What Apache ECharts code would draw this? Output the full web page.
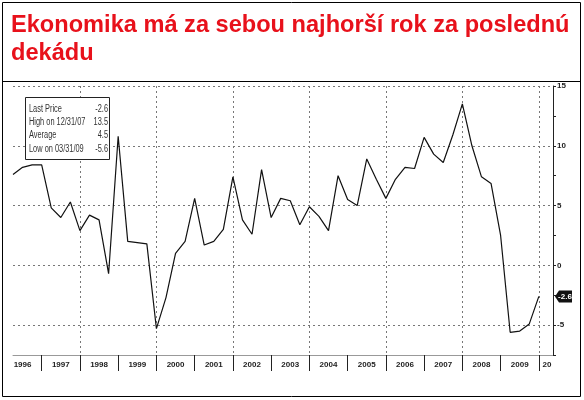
<!DOCTYPE html>
<html>
<head>
<meta charset="utf-8">
<script src="https://cdn.jsdelivr.net/npm/echarts@6/dist/echarts.min.js"></script>
<style>
html, body { margin: 0; padding: 0; background: #fff; }
#main { width: 584px; height: 400px; }
</style>
</head>
<body>
<div id="main"></div>
<script>
// years shown on the axis, data are quarter-end values (3/31/96 .. 12/31/09)
var years = [1996, 1997, 1998, 1999, 2000, 2001, 2002, 2003, 2004, 2005, 2006, 2007, 2008, 2009];
var quarterEnds = [0.25, 0.5, 0.75, 1];

// medziročný rast HDP, %
var growth = [
  7.6, 8.2, 8.4, 8.4,
  4.8, 4.0, 5.3, 2.9,
  4.2, 3.8, -0.7, 10.8,
  2.0, 1.9, 1.8, -5.3,
  -2.7, 1.0, 2.0, 5.6,
  1.7, 2.0, 3.0, 7.4,
  3.8, 2.6, 8.0, 4.0,
  5.6, 5.4, 3.4, 4.9,
  4.1, 2.9, 7.5, 5.5,
  5.0, 8.9, 7.2, 5.6,
  7.2, 8.2, 8.1, 10.7,
  9.3, 8.6, 10.9, 13.5,
  10.0, 7.4, 6.85, 2.5,
  -5.6, -5.5, -4.9, -2.6
];

var yearLabels = ['1996', '1997', '1998', '1999', '2000', '2001', '2002', '2003', '2004', '2005', '2006', '2007', '2008', '2009', '20'];
var yGridValues = [-5, 0, 5, 10, 15];
var xGridYears = [1998, 2000, 2002, 2004, 2006, 2008, 2010];

var statNames = ['Last Price', 'High on 12/31/07', 'Average', 'Low on 03/31/09'];
var statValues = ['-2.6', '13.5', '4.5', '-5.6'];

var qTimes = [];
years.forEach(function (y) {
  quarterEnds.forEach(function (q) { qTimes.push(y + q); });
});
var seriesData = growth.map(function (v, i) { return [qTimes[i], v]; });

var tickYears = years.slice(1).concat([2010]);
var labelPos = years.map(function (y) { return y + 0.5; }).concat([2010.21]);

var xMin = 1996.25, xMax = 2010.37;
var gridLine = { type: [2, 3], color: '#777', width: 1 };
var smallFont = 'Liberation Sans, Arial, sans-serif';

var chart = echarts.init(document.getElementById('main'));
chart.setOption({
  animation: false,
  backgroundColor: '#fff',
  title: {
    text: 'Ekonomika má za sebou najhorší rok za poslednú\ndekádu',
    left: 6, top: 6,
    textStyle: {
      color: '#e8111b', fontSize: 23.6, fontWeight: 'bold',
      fontFamily: 'Liberation Sans, Arial, sans-serif', lineHeight: 28
    }
  },
  grid: { left: 13, right: 31, top: 86, bottom: 45 },
  xAxis: [{
    type: 'value', min: xMin, max: xMax,
    axisLine: { show: true, onZero: false, lineStyle: { color: '#999', width: 1 } },
    axisTick: { show: true, customValues: tickYears, length: 16, lineStyle: { color: '#222' } },
    axisLabel: {
      customValues: labelPos,
      formatter: function (v) {
        var i = labelPos.indexOf(v);
        return i >= 0 ? yearLabels[i] : '';
      },
      fontSize: 8, fontWeight: 'bold', color: '#222', margin: 6,
      fontFamily: smallFont
    },
    splitLine: { show: false }
  }, {
    type: 'value', min: xMin, max: xMax, position: 'top',
    axisLine: { show: false, onZero: false },
    axisTick: { show: false, customValues: xGridYears },
    axisLabel: { show: false },
    splitLine: { show: true, lineStyle: gridLine }
  }],
  yAxis: [{
    type: 'value', position: 'right', min: -7.5, max: 15, interval: 2.5,
    axisLine: { show: true, onZero: false, lineStyle: { color: '#222', width: 1 } },
    axisTick: { show: true, length: 3, lineStyle: { color: '#222' } },
    axisLabel: {
      formatter: function (v) { return v % 5 === 0 ? String(v) : ''; },
      fontSize: 8, fontWeight: 'bold', color: '#222', margin: 4,
      fontFamily: smallFont
    },
    splitLine: { show: false }
  }, {
    type: 'value', position: 'left', min: -7.5, max: 15,
    axisLine: { show: false, onZero: false },
    axisTick: { show: false, customValues: yGridValues },
    axisLabel: { show: false },
    splitLine: { show: true, lineStyle: gridLine }
  }],
  series: [{
    type: 'line',
    data: seriesData,
    xAxisIndex: 0, yAxisIndex: 0,
    showSymbol: false,
    lineStyle: { color: '#111', width: 1.2 }
  }]
});

// rámik, legenda so štatistikou a značka poslednej hodnoty
var last = seriesData[seriesData.length - 1];
var lastPx = chart.convertToPixel({ xAxisIndex: 0, yAxisIndex: 0 }, last);
var axisX = chart.convertToPixel({ xAxisIndex: 0 }, xMax);
var fy = lastPx[1];

var graphics = [
  { type: 'rect', shape: { x: 2.5, y: 2.5, width: 578, height: 394 },
    style: { fill: 'none', stroke: '#000', lineWidth: 1 } },
  { type: 'line', shape: { x1: 2.5, y1: 81.5, x2: 580.5, y2: 81.5 },
    style: { stroke: '#000', lineWidth: 1 } },
  { type: 'rect', shape: { x: 25.5, y: 97.5, width: 84, height: 62 },
    style: { fill: '#fff', stroke: '#222', lineWidth: 1 }, z: 10 },
  { type: 'polygon',
    shape: { points: [[axisX + 2, fy], [axisX + 6, fy - 6], [axisX + 19, fy - 6], [axisX + 19, fy + 6], [axisX + 6, fy + 6]] },
    style: { fill: '#111' }, z: 10 },
  { type: 'text', x: axisX + 12, y: fy, z: 11,
    style: { text: statValues[0], fill: '#fff', fontSize: 8, fontWeight: 'bold',
      fontFamily: smallFont, align: 'center', verticalAlign: 'middle' } }
];
statNames.forEach(function (name, i) {
  var ty = 109 + i * 13.3;
  graphics.push({ type: 'text', x: 29, y: ty, z: 11, scaleX: 0.74,
    style: { text: name, fill: '#333', fontSize: 10, fontFamily: smallFont, verticalAlign: 'middle' } });
  graphics.push({ type: 'text', x: 108, y: ty, z: 11, scaleX: 0.74,
    style: { text: statValues[i], fill: '#333', fontSize: 10, fontFamily: smallFont, align: 'right', verticalAlign: 'middle' } });
});
chart.setOption({ graphic: graphics });
</script>
</body>
</html>
